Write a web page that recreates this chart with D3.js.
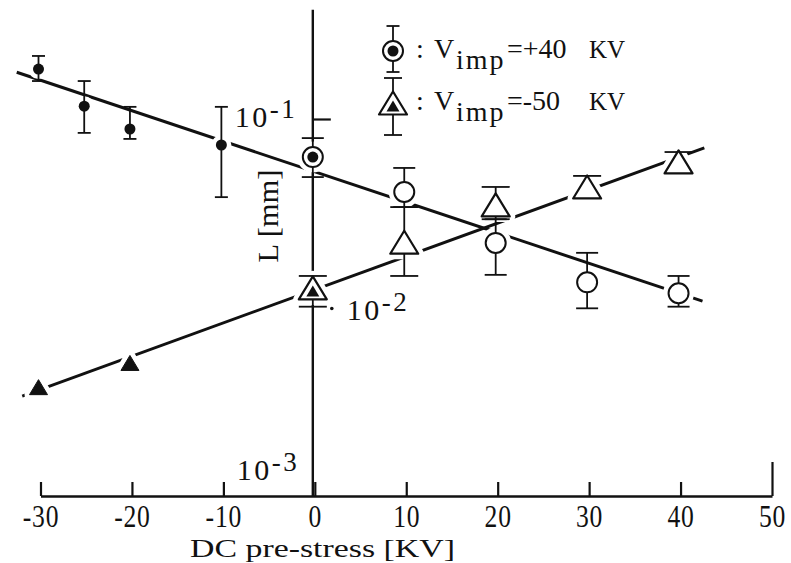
<!DOCTYPE html>
<html>
<head>
<meta charset="utf-8">
<script src="https://cdn.jsdelivr.net/npm/d3@7"></script>
<style>
  body { margin: 0; background: #fff; }
  svg { display: block; }
  text { font-family: "Liberation Serif", "DejaVu Serif", serif; fill: #111; }
</style>
</head>
<body>
<svg id="chart" width="791" height="563"></svg>
<script>
// x ticks (DC pre-stress, kV)
const kvTicks = [-30, -20, -10, 0, 10, 20, 30, 40, 50];

// V_imp = +40 kV series (L in mm), with error bar ends
const plusKV    = [-30, -25, -20, -10, 0, 10, 20, 30, 40];
const plusL     = [0.184, 0.117, 0.0885, 0.0728, 0.0628, 0.041, 0.022, 0.0136, 0.0119];
const plusHi    = [0.216, 0.159, 0.116, 0.116, 0.0792, 0.055, 0.0294, 0.0195, 0.0147];
const plusLo    = [0.159, 0.0844, 0.0784, 0.0385, 0.0492, 0.0341, 0.0149, 0.0099, 0.0101];
const plusShape = ["dot", "dot", "dot", "dot", "ringdot", "ring", "ring", "ring", "ring"];

// V_imp = -50 kV series
const minusKV    = [-30, -20, 0, 10, 20, 30, 40];
const minusL     = [0.00378, 0.00508, 0.0127, 0.0222, 0.035, 0.0436, 0.0592];
const minusHi    = [null, null, 0.0147, 0.0341, 0.0436, 0.0499, 0.0668];
const minusLo    = [null, null, 0.0101, 0.0147, 0.0294, null, null];
const minusShape = ["trisolid", "trisolid", "tridot", "tri", "tri", "tri", "tri"];

// fitted lines (end points)
const fitPlusKV  = [-32.6, 42.4];
const fitPlusL   = [0.177, 0.0108];
const fitMinusKV = [-32, 42.6];
const fitMinusL  = [0.00339, 0.0702];

const decades = [1e-1, 1e-2, 1e-3];
const legendValues = ["+40", "-50"];
const yAxisTop = 0.38;

const svg = d3.select("#chart");
const x = d3.scaleLinear().domain([-30, 50]).range([40.5, 772]);
const y = d3.scaleLog().domain([1e-3, 1e-1]).range([496, 119]);
const x0 = x(0) - 2;

// ---- axes ----
const gx = svg.append("g")
  .attr("transform", `translate(0,${y(1e-3)})`)
  .call(d3.axisBottom(x).tickValues(kvTicks).tickSize(-14).tickSizeOuter(0)
    .tickPadding(8).tickFormat(d => String(d)));
gx.attr("font-family", null).attr("font-size", null);
gx.select(".domain").attr("stroke", "#111").attr("stroke-width", 2.6);
gx.selectAll(".tick line").attr("stroke", "#111").attr("stroke-width", 2.2)
  .attr("y2", d => d === 50 ? -34 : -14);
gx.selectAll(".tick text").style("font-size", "32px").attr("fill", "#111")
  .attr("letter-spacing", 1)
  .attr("transform", "scale(0.8,1)");

svg.append("line")
  .attr("x1", x0).attr("x2", x0)
  .attr("y1", y(1e-3)).attr("y2", y(yAxisTop))
  .attr("stroke", "#111").attr("stroke-width", 2.4);

const gy = svg.append("g")
  .attr("transform", `translate(${x0},0)`)
  .call(d3.axisRight(y).tickValues([1e-1]).tickSize(18).tickFormat(""));
gy.select(".domain").remove();
gy.selectAll(".tick line").attr("stroke", "#111").attr("stroke-width", 2.2);

svg.append("circle").attr("cx", x0 + 19).attr("cy", y(1e-2) + 1).attr("r", 1.8).attr("fill", "#111");

// decade labels, placed around the axis like the original
const decadePos = { "-1": [-78, 8], "-2": [34, 12], "-3": [-76, -16] };
decades.forEach(v => {
  const e = String(Math.round(Math.log10(v)));
  const [dx, dy] = decadePos[e];
  const t = svg.append("text").attr("x", x0 + dx).attr("y", y(v) + dy)
    .attr("font-size", 30).attr("textLength", 60).attr("lengthAdjust", "spacing");
  t.append("tspan").text("10");
  t.append("tspan").attr("dy", -9).attr("font-size", 27).text(e);
});

// axis titles
svg.append("text")
  .attr("x", 190).attr("y", 557)
  .attr("font-size", 26)
  .attr("textLength", 265).attr("lengthAdjust", "spacingAndGlyphs")
  .text("DC pre-stress [KV]");

svg.append("text")
  .attr("transform", "translate(278,216) rotate(-90)")
  .attr("text-anchor", "middle")
  .attr("font-size", 30)
  .attr("textLength", 93).attr("lengthAdjust", "spacingAndGlyphs")
  .text("L  [mm]");

// ---- fit lines ----
const line = d3.line().x(d => x(d[0])).y(d => y(d[1]));
[[fitPlusKV, fitPlusL], [fitMinusKV, fitMinusL]].forEach(([kv, l]) => {
  svg.append("path")
    .attr("d", line(kv.map((k, i) => [k, l[i]])))
    .attr("fill", "none").attr("stroke", "#111").attr("stroke-width", 3);
});

// ---- markers ----
function triPath(w, h) { return `M0,${-h / 2}L${w / 2},${h / 2}L${-w / 2},${h / 2}Z`; }

function drawMarker(g, shape, halo) {
  const ink = halo ? "#fff" : "#111";
  const extra = halo ? 9 : 0;
  if (shape === "dot") {
    g.append("circle").attr("r", 5.5).attr("fill", ink).attr("stroke", ink).attr("stroke-width", extra);
  }
  if (shape === "ring" || shape === "ringdot") {
    g.append("circle").attr("r", 10).attr("fill", "#fff").attr("stroke", ink).attr("stroke-width", 2 + extra);
    if (shape === "ringdot" && !halo) g.append("circle").attr("r", 5.5).attr("fill", "#111");
  }
  if (shape === "tri" || shape === "tridot") {
    g.append("path").attr("d", triPath(28, 23)).attr("fill", "#fff")
      .attr("stroke", ink).attr("stroke-width", 2.2 + extra).attr("stroke-linejoin", "round");
    if (shape === "tridot" && !halo) {
      g.append("path").attr("d", triPath(13, 11)).attr("transform", "translate(0,3)").attr("fill", "#111");
    }
  }
  if (shape === "trisolid") {
    g.append("path").attr("d", triPath(18, 15)).attr("fill", ink)
      .attr("stroke", ink).attr("stroke-width", 1 + extra).attr("stroke-linejoin", "round");
  }
}

const capWidth = { dot: 13, ring: 22, ringdot: 22, tri: 28, tridot: 28, trisolid: 18 };

function errorBar(g, cx, y1, y2, capW, capTop, capBottom) {
  g.append("line").attr("x1", cx).attr("x2", cx).attr("y1", y1).attr("y2", y2)
    .attr("stroke", "#111").attr("stroke-width", 1.8);
  if (capTop) g.append("line").attr("x1", cx - capW / 2).attr("x2", cx + capW / 2)
    .attr("y1", y1).attr("y2", y1).attr("stroke", "#111").attr("stroke-width", 1.8);
  if (capBottom) g.append("line").attr("x1", cx - capW / 2).attr("x2", cx + capW / 2)
    .attr("y1", y2).attr("y2", y2).attr("stroke", "#111").attr("stroke-width", 1.8);
}

const rows = [];
plusKV.forEach((kv, i) => rows.push({ kv, L: plusL[i], hi: plusHi[i], lo: plusLo[i], shape: plusShape[i] }));
minusKV.forEach((kv, i) => rows.push({ kv, L: minusL[i], hi: minusHi[i], lo: minusLo[i], shape: minusShape[i] }));

const haloLayer = svg.append("g");
const barLayer = svg.append("g");
const markLayer = svg.append("g");

rows.forEach(r => {
  const cx = x(r.kv) - 2, cy = y(r.L);
  drawMarker(haloLayer.append("g").attr("transform", `translate(${cx},${cy})`), r.shape, true);
  if (r.hi != null || r.lo != null) {
    errorBar(barLayer, cx,
      r.hi != null ? y(r.hi) : cy,
      r.lo != null ? y(r.lo) : cy,
      capWidth[r.shape], r.hi != null, r.lo != null);
  }
  drawMarker(markLayer.append("g").attr("transform", `translate(${cx},${cy})`), r.shape, false);
});

// ---- legend ----
const legend = svg.append("g");
[["ringdot", 51, -25, 21, 13], ["tridot", 103, -25, 32, 18]].forEach(([shape, ly, up, down, cw], i) => {
  errorBar(legend, 393, ly + up, ly + down, cw, true, true);
  drawMarker(legend.append("g").attr("transform", `translate(393,${ly})`), shape, false);
  const t = legend.append("text").attr("y", ly + 7).attr("font-size", 28);
  t.append("tspan").attr("x", 416).text(":");
  t.append("tspan").attr("x", 434).text("V");
  t.append("tspan").attr("x", 456).attr("dy", 11).attr("letter-spacing", 2).text("imp");
  t.append("tspan").attr("x", 507).attr("dy", -11).text("=" + legendValues[i]);
  t.append("tspan").attr("x", 589).attr("font-size", 25).text("KV");
});
</script>
</body>
</html>
